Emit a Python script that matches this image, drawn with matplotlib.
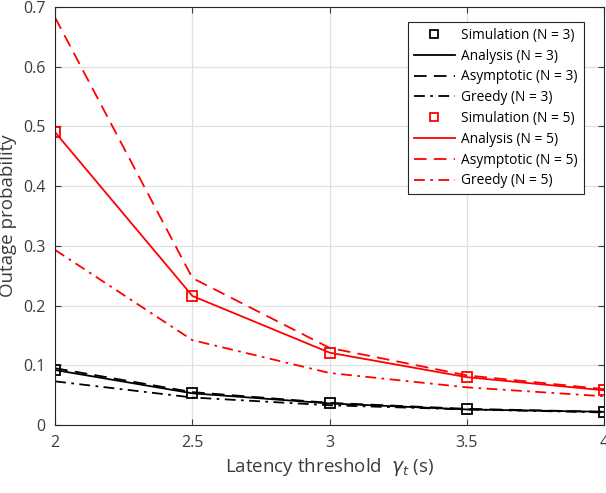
import numpy as np
import matplotlib
matplotlib.use("Agg")
import matplotlib.pyplot as plt

# --- data ---
gamma = [2.0, 2.5, 3.0, 3.5, 4.0]

sim_n3 = [0.092, 0.053, 0.036, 0.026, 0.022]
ana_n3 = [0.092, 0.053, 0.036, 0.026, 0.022]
asy_n3 = [0.095, 0.055, 0.037, 0.027, 0.022]
grd_n3 = [0.073, 0.046, 0.033, 0.026, 0.021]

sim_n5 = [0.490, 0.216, 0.121, 0.080, 0.058]
ana_n5 = [0.490, 0.216, 0.121, 0.080, 0.058]
asy_n5 = [0.682, 0.246, 0.129, 0.083, 0.060]
grd_n5 = [0.293, 0.142, 0.087, 0.063, 0.048]

yticks = [0, 0.1, 0.2, 0.3, 0.4, 0.5, 0.6, 0.7]
xticks = [2, 2.5, 3, 3.5, 4]

TICK = "#3c3c3c"
plt.rcParams.update({
    "font.family": ["Open Sans", "DejaVu Sans"],
    "font.size": 11,
    "xtick.color": TICK, "ytick.color": TICK,
    "axes.edgecolor": "#262626",
})

fig = plt.figure(figsize=(6.06, 4.93), dpi=100)
ax = fig.add_axes([0.091, 0.138, 0.906, 0.848])

dash = (0, (7, 4))
dashdot = (0, (6, 3, 1.5, 3))
sq = dict(marker="s", ms=6.5, mfc="none", mew=1.3, ls="none")

ax.plot(gamma, sim_n3, color="k", label="Simulation (N = 3)", **sq)
ax.plot(gamma, ana_n3, color="k", lw=1.3, label="Analysis (N = 3)")
ax.plot(gamma, asy_n3, color="k", lw=1.3, ls=dash, label="Asymptotic (N = 3)")
ax.plot(gamma, grd_n3, color="k", lw=1.3, ls=dashdot, label="Greedy (N = 3)")
ax.plot(gamma, sim_n5, color="red", label="Simulation (N = 5)", **sq)
ax.plot(gamma, ana_n5, color="red", lw=1.3, label="Analysis (N = 5)")
ax.plot(gamma, asy_n5, color="red", lw=1.3, ls=dash, label="Asymptotic (N = 5)")
ax.plot(gamma, grd_n5, color="red", lw=1.3, ls=dashdot, label="Greedy (N = 5)")

ax.set_xlim(2, 4)
ax.set_ylim(0, 0.7)
ax.set_xticks(xticks)
ax.set_xticklabels(["2", "2.5", "3", "3.5", "4"])
ax.set_yticks(yticks)
ax.set_yticklabels(["0", "0.1", "0.2", "0.3", "0.4", "0.5", "0.6", "0.7"])
ax.grid(True, color="#e0e0e0", lw=0.9)
ax.set_axisbelow(True)
ax.tick_params(direction="in", top=True, right=True, length=4, labelsize=11.5, pad=7)
for s in ax.spines.values():
    s.set_linewidth(0.8)

ax.set_xlabel(r"Latency threshold  $\gamma_t$ (s)", fontsize=13.5, color=TICK)
ax.set_ylabel("Outage probability", fontsize=13.5, color=TICK)

leg = ax.legend(loc="upper right", bbox_to_anchor=(0.975, 0.98), fontsize=9.9,
                frameon=True, fancybox=False, edgecolor="#262626", framealpha=1,
                handlelength=3.0, handletextpad=0.45, labelspacing=0.42,
                borderpad=0.42, markerscale=0.85)
leg.get_frame().set_linewidth(0.8)

fig.savefig("out.png", dpi=100)
